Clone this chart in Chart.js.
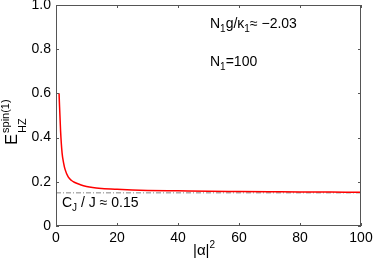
<!DOCTYPE html>
<html>
<head>
<meta charset="utf-8">
<script src="https://cdn.jsdelivr.net/npm/chart.js@4"></script>
<style>
    html, body { margin: 0; padding: 0; background: #fff; }
    canvas { display: block; }
</style>
</head>
<body>
<canvas id="chart" width="374" height="266"></canvas>
<script>
const alphaSq = [1, 1.5, 2, 2.5, 3, 4, 5, 6, 8, 10, 12, 15, 20, 25, 30, 40, 50, 60, 70, 80, 90, 100]
const energy = [0.60, 0.43, 0.33, 0.285, 0.255, 0.222, 0.207, 0.198, 0.187, 0.179, 0.174, 0.170, 0.166, 0.163, 0.161, 0.159, 0.157, 0.156, 0.155, 0.154, 0.1535, 0.153]
const cjLevel = 0.15
const cjRange = [0, 100]
const xTicks = [0, 20, 40, 60, 80, 100]
const yTicks = [0, 0.2, 0.4, 0.6, 0.8, 1.0]
const yTickLabels = ['0', '0.2', '0.4', '0.6', '0.8', '1.0']

const FONT = '"Liberation Sans", Arial, sans-serif'
const AXIS_COLOR = '#555'

// draws pieces of text one after another, each with its own size and shift
function drawRich(ctx, parts, x, y) {
    let cx = x
    parts.forEach((p) => {
        ctx.font = `${p.size}px ${FONT}`
        ctx.fillText(p.t, cx, y + (p.dy || 0))
        cx += ctx.measureText(p.t).width
    })
    return cx - x
}
function richWidth(ctx, parts) {
    let w = 0
    parts.forEach((p) => {
        ctx.font = `${p.size}px ${FONT}`
        w += ctx.measureText(p.t).width
    })
    return w
}

const framePlugin = {
    id: 'frame',
    afterDatasetsDraw(chart) {
        const { ctx, chartArea: a, scales } = chart
        ctx.save()
        ctx.strokeStyle = AXIS_COLOR
        ctx.lineWidth = 1
        ctx.strokeRect(Math.round(a.left) + 0.5, Math.round(a.top) + 0.5,
            Math.round(a.right - a.left) - 1, Math.round(a.bottom - a.top) - 1)
        const tl = 3
        ctx.beginPath()
        xTicks.forEach((v) => {
            const px = Math.round(scales.x.getPixelForValue(v)) + 0.5
            ctx.moveTo(px, a.bottom)
            ctx.lineTo(px, a.bottom - tl)
            ctx.moveTo(px, a.top)
            ctx.lineTo(px, a.top + tl)
        })
        yTicks.forEach((v) => {
            const py = Math.round(scales.y.getPixelForValue(v)) + 0.5
            ctx.moveTo(a.left, py)
            ctx.lineTo(a.left + tl, py)
            ctx.moveTo(a.right, py)
            ctx.lineTo(a.right - tl, py)
        })
        ctx.stroke()

        ctx.fillStyle = '#000'
        ctx.textBaseline = 'alphabetic'
        ctx.textAlign = 'left'
        drawRich(ctx, [
            { t: 'N', size: 14 },
            { t: '1', size: 10, dy: 4 },
            { t: 'g/κ', size: 14 },
            { t: '1', size: 10, dy: 4 },
            { t: '≈ −2.03', size: 14 },
        ], 210, 28)
        drawRich(ctx, [
            { t: 'N', size: 14 },
            { t: '1', size: 10, dy: 4 },
            { t: '=100', size: 14 },
        ], 210, 66)
        drawRich(ctx, [
            { t: 'C', size: 14 },
            { t: 'J', size: 10, dy: 4 },
            { t: ' / J ≈ 0.15', size: 14 },
        ], 62, 207)

        // x axis title |α|^2
        const xParts = [{ t: '|α|', size: 15 }, { t: '2', size: 10, dy: -7 }]
        const xw = richWidth(ctx, xParts)
        drawRich(ctx, xParts, 204 - xw / 2, 255)

        // y axis title E_HZ^spin(1), rotated
        ctx.translate(17, 122)
        ctx.rotate(-Math.PI / 2)
        ctx.font = `16px ${FONT}`
        const ew = ctx.measureText('E').width
        ctx.font = `11px ${FONT}`
        const subW = ctx.measureText('HZ').width
        const supW = ctx.measureText('spin(1)').width
        const total = ew + 1 + Math.max(subW, supW)
        const x0 = -total / 2
        ctx.font = `16px ${FONT}`
        ctx.fillText('E', x0, 0)
        ctx.font = `11px ${FONT}`
        ctx.fillText('HZ', x0 + ew + 1, 9)
        ctx.fillText('spin(1)', x0 + ew + 1, -8)
        ctx.restore()
    },
}

const ctx = document.getElementById('chart').getContext('2d')
new Chart(ctx, {
    type: 'line',
    data: {
        datasets: [
            {
                label: 'E_HZ',
                data: alphaSq.map((x, i) => ({ x: x, y: energy[i] })),
                borderColor: '#ff0000',
                borderWidth: 1.5,
                pointRadius: 0,
                cubicInterpolationMode: 'monotone',
                fill: false,
                order: 1,
            },
            {
                label: 'CJ',
                data: cjRange.map((x) => ({ x: x, y: cjLevel })),
                borderColor: '#666',
                borderWidth: 0.8,
                borderDash: [5, 2, 1, 2],
                pointRadius: 0,
                fill: false,
                order: 2,
            },
        ],
    },
    options: {
        responsive: false,
        animation: false,
        devicePixelRatio: 1,
        layout: { padding: { top: 5, right: 13, left: 0, bottom: 0 } },
        plugins: {
            legend: { display: false },
            tooltip: { enabled: false },
        },
        scales: {
            x: {
                type: 'linear',
                min: 0,
                max: 100,
                grid: { display: false, drawTicks: false },
                border: { display: false },
                afterBuildTicks: (scale) => {
                    scale.ticks = xTicks.map((v) => ({ value: v }))
                },
                ticks: {
                    color: '#000',
                    padding: 4,
                    font: { family: FONT, size: 14 },
                    maxRotation: 0,
                    callback: (v) => String(v),
                },
                afterFit: (scale) => {
                    scale.height = 40
                    scale.paddingLeft = 0
                    scale.paddingRight = 0
                },
            },
            y: {
                min: 0,
                max: 1,
                grid: { display: false, drawTicks: false },
                border: { display: false },
                afterBuildTicks: (scale) => {
                    scale.ticks = yTicks.map((v) => ({ value: v }))
                },
                ticks: {
                    color: '#000',
                    padding: 5,
                    font: { family: FONT, size: 14 },
                    callback: (v) => yTickLabels[yTicks.indexOf(v)],
                },
                afterFit: (scale) => {
                    scale.width = 56
                    scale.paddingTop = 0
                    scale.paddingBottom = 0
                },
            },
        },
    },
    plugins: [framePlugin],
})
</script>
</body>
</html>
